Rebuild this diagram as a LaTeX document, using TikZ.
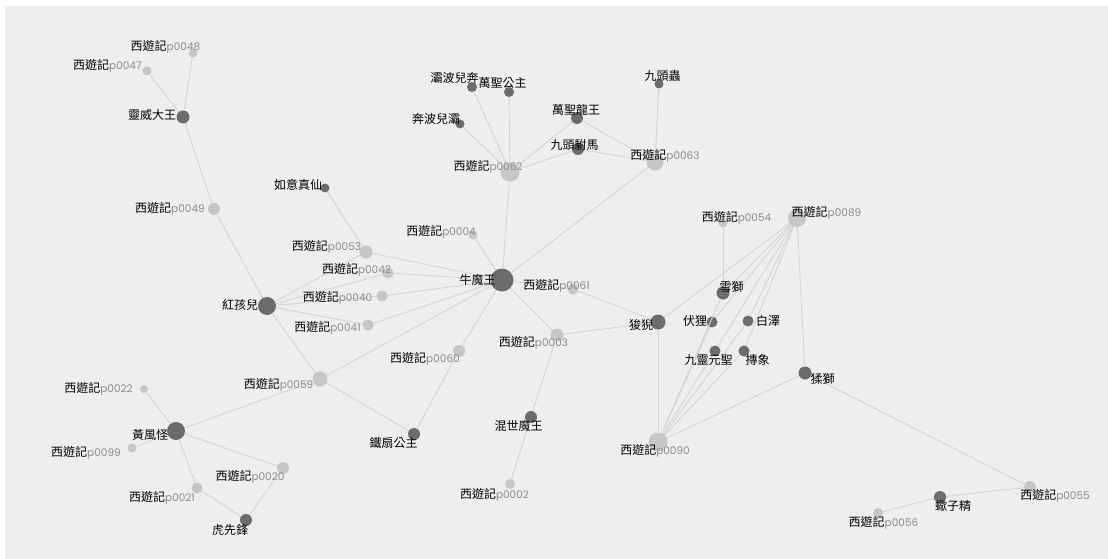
\documentclass[tikz,border=0pt]{standalone}
\usepackage{fontspec}
\newfontfamily\cjk{Noto Sans CJK TC}
\newfontfamily\numfont{Poppins}
\usepackage{tikz}
\usetikzlibrary{positioning}
\definecolor{bggray}{RGB}{238,238,238}
\definecolor{nodelite}{RGB}{198,198,198}
\definecolor{nodedark}{RGB}{108,108,108}
\definecolor{edgegray}{RGB}{212,212,212}
\definecolor{numgray}{RGB}{140,140,140}
\newcommand{\xyj}[1]{西遊記{\numfont\fontsize{10.5}{12}\selectfont\color{numgray}p#1}}

\begin{document}
\begin{tikzpicture}[
    x=1pt, y=-1pt,
    lite/.style={circle, fill=nodelite, inner sep=0pt, minimum size=#1},
    dark/.style={circle, fill=nodedark, inner sep=0pt, minimum size=#1},
    edge/.style={draw=edgegray, line width=0.9pt},
    lbl/.style={font=\cjk\fontsize{12}{14}\selectfont, text=black, inner sep=0pt}
]
    % Canvas
    \useasboundingbox (0,0) rectangle (1108,559);
    \fill[bggray] (5,6) rectangle (1108,559);

    % Chapter nodes
    \node[lite=9] (p48) at (193,53) {};
    \node[lite=9] (p47) at (147,71) {};
    \node[lite=12] (p49) at (214,209) {};
    \node[lite=13] (p53) at (366,252) {};
    \node[lite=11] (p42) at (388,273) {};
    \node[lite=11] (p40) at (382,296) {};
    \node[lite=11] (p41) at (368,325) {};
    \node[lite=9] (p04) at (473,235) {};
    \node[lite=15] (p59) at (320,379) {};
    \node[lite=8] (p22) at (144,389) {};
    \node[lite=9] (p99) at (132,448) {};
    \node[lite=12] (p20) at (283,468) {};
    \node[lite=11] (p21) at (197,488) {};
    \node[lite=19] (p62) at (510,172) {};
    \node[lite=17] (p63) at (655,162) {};
    \node[lite=11] (p61) at (573,289) {};
    \node[lite=13] (p03) at (557,335) {};
    \node[lite=12] (p60) at (459,351) {};
    \node[lite=10] (p02) at (510,484) {};
    \node[lite=19] (p90) at (658,442) {};
    \node[lite=9] (p54) at (723,223) {};
    \node[lite=18] (p89) at (797,218) {};
    \node[lite=12] (p55) at (1030,487) {};
    \node[lite=10] (p56) at (878,513) {};

    % Character nodes
    \node[dark=13] (lingwei) at (183,117) {};
    \node[dark=9] (ruyi) at (325,188) {};
    \node[dark=23] (niumo) at (502,280) {};
    \node[dark=18] (honghai) at (267,306) {};
    \node[dark=18] (huangfeng) at (176,431) {};
    \node[dark=12] (huxian) at (246,520) {};
    \node[dark=10] (babo) at (472,87) {};
    \node[dark=10] (wsgz) at (509,92) {};
    \node[dark=9] (benbo) at (460,124) {};
    \node[dark=12] (wslw) at (577,118) {};
    \node[dark=12] (jtfm) at (578,149) {};
    \node[dark=9] (jtc) at (659,84) {};
    \node[dark=12] (tieshan) at (414,434) {};
    \node[dark=12] (hunshi) at (531,417) {};
    \node[dark=15] (suanni) at (658,322) {};
    \node[dark=13] (xueshi) at (723,293) {};
    \node[dark=11] (fuli) at (712,322) {};
    \node[dark=11] (baize) at (748,321) {};
    \node[dark=11] (jiuling) at (715,351) {};
    \node[dark=11] (tuanxiang) at (744,351) {};
    \node[dark=13] (naoshi) at (805,373) {};
    \node[dark=12] (xiezi) at (940,497) {};

    % Links
    \draw[edge] (p48) -- (lingwei);
    \draw[edge] (p47) -- (lingwei);
    \draw[edge] (lingwei) -- (p49);
    \draw[edge] (p49) -- (honghai);
    \draw[edge] (ruyi) -- (p53);
    \foreach \t in {p53,p42,p40,p41,p59}
        \draw[edge] (honghai) -- (\t);
    \foreach \t in {p53,p42,p40,p41,p04,p62,p63,p61,p03,p60,p59}
        \draw[edge] (niumo) -- (\t);
    \foreach \t in {babo,wsgz,benbo,wslw,jtfm}
        \draw[edge] (p62) -- (\t);
    \foreach \t in {wslw,jtfm,jtc}
        \draw[edge] (p63) -- (\t);
    \draw[edge] (p59) -- (tieshan);
    \draw[edge] (p60) -- (tieshan);
    \draw[edge] (p03) -- (hunshi);
    \draw[edge] (hunshi) -- (p02);
    \foreach \t in {p22,p99,p21,p20,p59}
        \draw[edge] (huangfeng) -- (\t);
    \draw[edge] (huxian) -- (p21);
    \draw[edge] (huxian) -- (p20);
    \foreach \t in {p61,p03,p89,p90}
        \draw[edge] (suanni) -- (\t);
    \draw[edge] (p54) -- (xueshi);
    \foreach \t in {xueshi,fuli,baize,jiuling,tuanxiang,naoshi}{
        \draw[edge] (p89) -- (\t);
        \draw[edge] (p90) -- (\t);
    }
    \draw[edge] (naoshi) -- (p55);
    \draw[edge] (p55) -- (xiezi);
    \draw[edge] (xiezi) -- (p56);

    % Labels
    \node[lbl] (t-p48) at (165.5,47) {\xyj{0048}};
    \node[lbl] (t-p47) at (107.5,66) {\xyj{0047}};
    \node[lbl] (t-lingwei) at (152,115) {靈威大王};
    \node[lbl] (t-p49) at (170,209) {\xyj{0049}};
    \node[lbl] (t-ruyi) at (298,185) {如意真仙};
    \node[lbl] (t-p53) at (326.5,247) {\xyj{0053}};
    \node[lbl] (t-p42) at (356.5,270) {\xyj{0042}};
    \node[lbl] (t-p40) at (337.5,298) {\xyj{0040}};
    \node[lbl] (t-p41) at (327.5,328) {\xyj{0041}};
    \node[lbl] (t-niumo) at (477.5,280) {牛魔王};
    \node[lbl] (t-p04) at (441,232) {\xyj{0004}};
    \node[lbl] (t-honghai) at (240,305) {紅孩兒};
    \node[lbl] (t-p59) at (278.5,385) {\xyj{0059}};
    \node[lbl] (t-p22) at (98.5,389) {\xyj{0022}};
    \node[lbl] (t-huangfeng) at (150,435) {黃風怪};
    \node[lbl] (t-p99) at (86,453) {\xyj{0099}};
    \node[lbl] (t-p20) at (250,477) {\xyj{0020}};
    \node[lbl] (t-p21) at (162,498) {\xyj{0021}};
    \node[lbl] (t-huxian) at (230,530) {虎先鋒};
    \node[lbl] (t-babo) at (454.5,78) {灞波兒奔};
    \node[lbl] (t-wsgz) at (502.5,83) {萬聖公主};
    \node[lbl] (t-benbo) at (436,119) {奔波兒灞};
    \node[lbl] (t-p62) at (488,167) {\xyj{0062}};
    \node[lbl] (t-wslw) at (576,110) {萬聖龍王};
    \node[lbl] (t-jtfm) at (574.5,145) {九頭駙馬};
    \node[lbl] (t-jtc) at (662.5,76) {九頭蟲};
    \node[lbl] (t-p63) at (665,156) {\xyj{0063}};
    \node[lbl] (t-p61) at (556.5,286) {\xyj{0061}};
    \node[lbl] (t-p03) at (533.5,343) {\xyj{0003}};
    \node[lbl] (t-p60) at (425,359) {\xyj{0060}};
    \node[lbl] (t-tieshan) at (393.5,443) {鐵扇公主};
    \node[lbl] (t-hunshi) at (518.5,426) {混世魔王};
    \node[lbl] (t-p02) at (494.5,495) {\xyj{0002}};
    \node[lbl] (t-suanni) at (641,325) {狻猊};
    \node[lbl] (t-p90) at (655,451) {\xyj{0090}};
    \node[lbl] (t-p54) at (736.5,218) {\xyj{0054}};
    \node[lbl] (t-p89) at (826.5,213) {\xyj{0089}};
    \node[lbl] (t-xueshi) at (731.5,287) {雪獅};
    \node[lbl] (t-fuli) at (695,321) {伏狸};
    \node[lbl] (t-baize) at (768,321) {白澤};
    \node[lbl] (t-jiuling) at (708.5,360) {九靈元聖};
    \node[lbl] (t-tuanxiang) at (757.5,360) {摶象};
    \node[lbl] (t-naoshi) at (822.5,379) {猱獅};
    \node[lbl] (t-p55) at (1055,496) {\xyj{0055}};
    \node[lbl] (t-xiezi) at (953,506) {蠍子精};
    \node[lbl] (t-p56) at (883.5,523) {\xyj{0056}};
\end{tikzpicture}
\end{document}
